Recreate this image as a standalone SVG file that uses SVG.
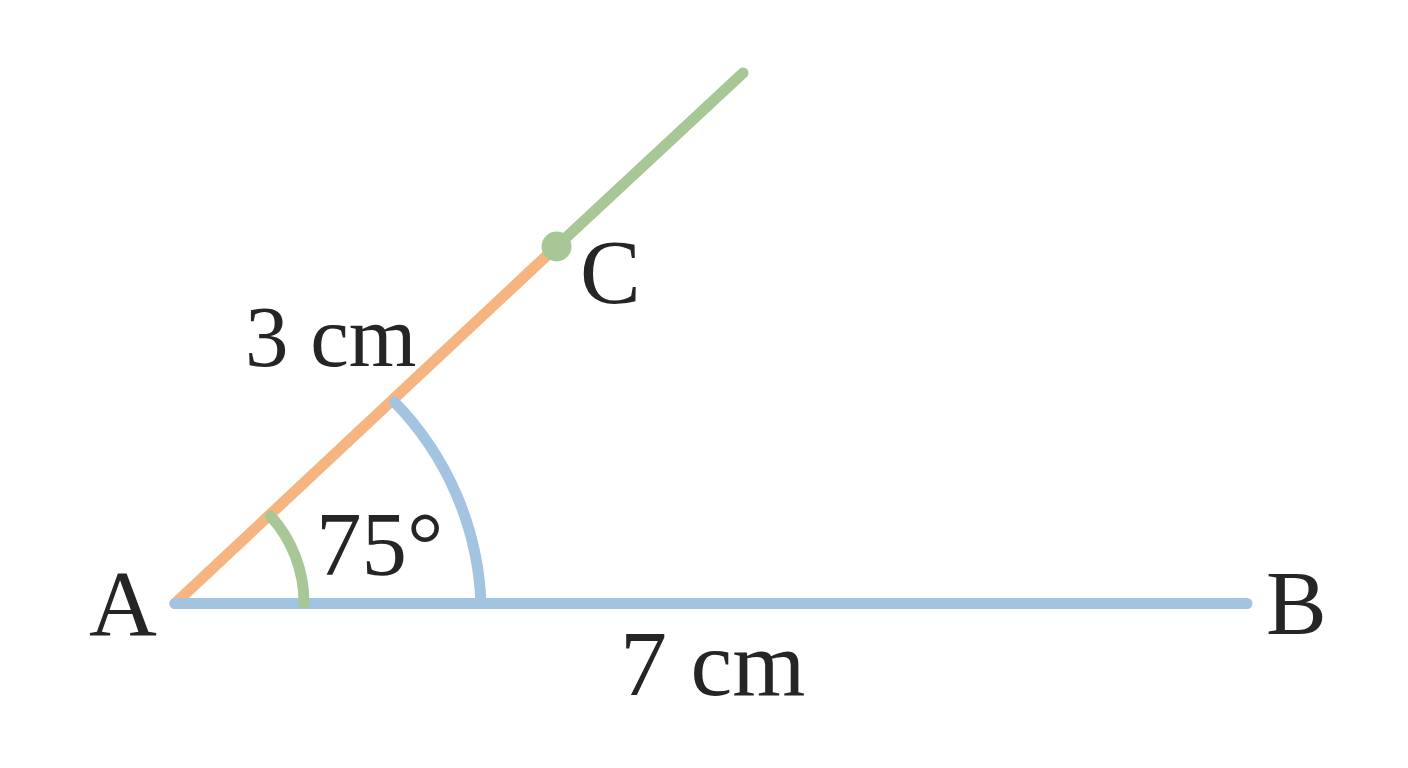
<svg xmlns="http://www.w3.org/2000/svg" width="1408" height="768" viewBox="0 0 1408 768">
<style>
.ln{fill:none;stroke-width:11;stroke-linecap:round}
.blue{stroke:#a3c4e1}
.orange{stroke:#f5b480}
.green{stroke:#a8c796}
.lbl{font-family:"Liberation Serif","Times New Roman",serif;fill:#252525}
</style>
<rect width="1408" height="768" fill="#ffffff"/>
<g id="connectors">
<path class="ln green" d="M 556.5 246.5 L 743 73"/>
<path class="ln orange" d="M 175 603.5 L 556.5 246.5" stroke-linecap="butt"/>
<path class="ln blue" d="M 175 603.5 L 1247 603.5"/>
<path class="ln blue" d="M 394.5 402 A 305 305 0 0 1 481 603.5" stroke-linecap="butt"/>
<path class="ln green" d="M 270.5 516 A 129 129 0 0 1 304 603.5" stroke-linecap="butt"/>
</g>
<g id="nodeC"><circle cx="556.5" cy="246.5" r="15" fill="#a8c796"/><text class="lbl" x="580" y="303" font-size="91">C</text></g>
<g id="nodeA"><text class="lbl" x="89" y="635" font-size="94">A</text></g>
<g id="nodeB"><text class="lbl" x="1266" y="634" font-size="91">B</text></g>
<g id="labels">
<text class="lbl" x="245" y="366" font-size="87">3 cm</text>
<text class="lbl" x="316" y="575" font-size="91">75°</text>
<text class="lbl" x="620" y="695" font-size="94">7 cm</text>
</g>
</svg>
